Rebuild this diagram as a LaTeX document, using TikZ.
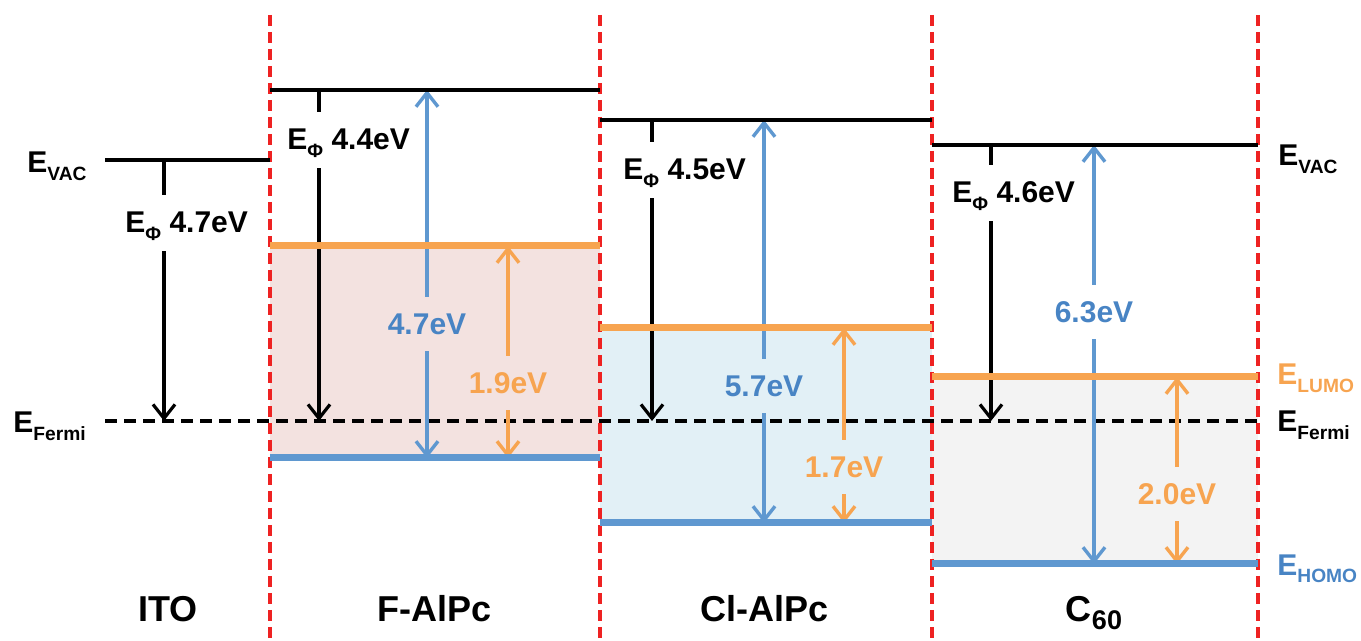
\documentclass[tikz,border=0pt]{standalone}
\usepackage{fontspec}
\setmainfont{Liberation Sans}
\usetikzlibrary{arrows.meta}
\definecolor{myred}{RGB}{238,34,34}
\definecolor{myorange}{RGB}{247,164,80}
\definecolor{myblue}{RGB}{95,152,208}
\definecolor{bluetext}{RGB}{72,132,196}
\definecolor{pinkfill}{RGB}{243,226,224}
\definecolor{bluefill}{RGB}{226,240,246}
\definecolor{grayfill}{RGB}{243,243,243}
\newcommand\lsub[1]{\raisebox{-0.45ex}{\scalebox{0.64}{#1}}}
\newcommand\csub[1]{\raisebox{-0.4ex}{\scalebox{0.75}{#1}}}
\begin{document}
\begin{tikzpicture}[x=0.5pt,y=-0.5pt,
 every node/.style={font=\fontsize{15}{18}\selectfont\bfseries, inner sep=0pt},
 sep/.style={draw=myred, line width=1.7pt, dash pattern=on 5.5pt off 3pt},
 vac/.style={line width=1.9pt},
 lumo/.style={draw=myorange, line width=3.5pt},
 homo/.style={draw=myblue, line width=3.5pt},
 fermi/.style={line width=1.8pt, dash pattern=on 6pt off 3.5pt},
 tip/.style={-{Straight Barb[length=7pt,width=11pt]}},
 phiarr/.style={line width=1.6pt},
 bluearr/.style={draw=myblue, line width=1.7pt},
 orarr/.style={draw=myorange, line width=1.7pt},
 val/.style={text height=11pt, text depth=0pt, inner ysep=8pt, anchor=base},
 phil/.style={text height=11pt, text depth=1pt, inner ysep=8pt, anchor=base west},
 lvl/.style={anchor=base west},
 layer/.style={anchor=base, font=\fontsize{18}{21}\selectfont\bfseries}
]
\useasboundingbox (0,0) rectangle (1361,641);
% band fills
\fill[pinkfill] (270,246) rectangle (600,458);
\fill[bluefill] (600,328) rectangle (932,523);
\fill[grayfill] (932,377) rectangle (1258,564);
% Fermi level
\coordinate (fL) at (105,421);
\coordinate (fR) at (1258,421);
\draw[fermi] (fL) -- (fR);
% separators
\foreach \i/\x in {1/270,2/600,3/932,4/1258}{
  \coordinate (st\i) at (\x,15);
  \coordinate (sb\i) at (\x,641);
  \draw[sep] (st\i) -- (sb\i);
}
% coordinates of arrows
\coordinate (a0) at (164,160);  \coordinate (f0) at (164,421);
\coordinate (a1) at (319,90);   \coordinate (f1) at (319,421);
\coordinate (a2) at (652,120);  \coordinate (f2) at (652,421);
\coordinate (a3) at (991,145);  \coordinate (f3) at (991,421);
% work function labels
\node[phil] (p0) at (125,233) {E\lsub{Φ} 4.7eV};
\node[phil] (p1) at (287,150) {E\lsub{Φ} 4.4eV};
\node[phil] (p2) at (623,180) {E\lsub{Φ} 4.5eV};
\node[phil] (p3) at (952,203) {E\lsub{Φ} 4.6eV};
\foreach \i in {0,1,2,3}{
  \draw[phiarr] (a\i) -- (a\i |- p\i.north);
  \draw[phiarr,tip] (a\i |- p\i.south) -- (f\i);
}
% ionization energy (blue) arrows
\coordinate (bt1) at (427,90);   \coordinate (bb1) at (427,458);
\coordinate (bt2) at (764,120);  \coordinate (bb2) at (764,523);
\coordinate (bt3) at (1094,145); \coordinate (bb3) at (1094,564);
\node[val,text=bluetext] (b1) at (427,335) {4.7eV};
\node[val,text=bluetext] (b2) at (764,397) {5.7eV};
\node[val,text=bluetext] (b3) at (1094,323) {6.3eV};
% gap (orange) arrows
\coordinate (ot1) at (508,246);  \coordinate (ob1) at (508,458);
\coordinate (ot2) at (844,328);  \coordinate (ob2) at (844,523);
\coordinate (ot3) at (1177,377); \coordinate (ob3) at (1177,564);
\node[val,text=myorange] (o1) at (508,394) {1.9eV};
\node[val,text=myorange] (o2) at (844,478) {1.7eV};
\node[val,text=myorange] (o3) at (1177,505) {2.0eV};
\foreach \i in {1,2,3}{
  \draw[bluearr,tip] (b\i.north) -- (bt\i);
  \draw[bluearr,tip] (b\i.south) -- (bb\i);
  \draw[orarr,tip] (o\i.north) -- (ot\i);
  \draw[orarr,tip] (o\i.south) -- (ob\i);
}
% vacuum levels
\coordinate (v0a) at (105,160);  \coordinate (v0b) at (270,160);
\coordinate (v1a) at (270,90);   \coordinate (v1b) at (600,90);
\coordinate (v2a) at (600,120);  \coordinate (v2b) at (932,120);
\coordinate (v3a) at (932,145);  \coordinate (v3b) at (1258,145);
\foreach \i in {0,1,2,3}{ \draw[vac] (v\i a) -- (v\i b); }
% LUMO / HOMO levels
\coordinate (l1a) at (270,246);  \coordinate (l1b) at (600,246);
\coordinate (l2a) at (600,328);  \coordinate (l2b) at (932,328);
\coordinate (l3a) at (932,377);  \coordinate (l3b) at (1258,377);
\coordinate (h1a) at (270,458);  \coordinate (h1b) at (600,458);
\coordinate (h2a) at (600,523);  \coordinate (h2b) at (932,523);
\coordinate (h3a) at (932,564);  \coordinate (h3b) at (1258,564);
\foreach \i in {1,2,3}{
  \draw[lumo] (l\i a) -- (l\i b);
  \draw[homo] (h\i a) -- (h\i b);
}
% level names
\node[lvl] (nvacL) at (27,173) {E\lsub{VAC}};
\node[lvl] (nferL) at (13,433) {E\lsub{Fermi}};
\node[lvl] (nvacR) at (1278,166) {E\lsub{VAC}};
\node[lvl,text=myorange] (nlumo) at (1277,385) {E\lsub{LUMO}};
\node[lvl] (nferR) at (1277,432) {E\lsub{Fermi}};
\node[lvl,text=bluetext] (nhomo) at (1277,575) {E\lsub{HOMO}};
% layer names
\node[layer] (ito) at (168,622) {ITO};
\node[layer] (falpc) at (435,622) {F-AlPc};
\node[layer] (clalpc) at (765,622) {Cl-AlPc};
\node[layer] (c60) at (1094,622) {C\csub{60}};
\end{tikzpicture}
\end{document}
